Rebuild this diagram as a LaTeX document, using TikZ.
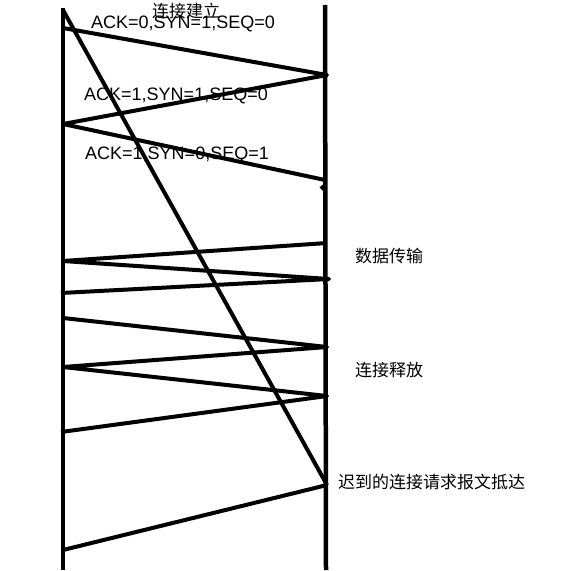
\documentclass[tikz,border=0pt]{standalone}
\usepackage{fontspec}
\setmainfont{Noto Sans CJK SC}
\newfontfamily\latinfont{Liberation Sans}
\tikzset{
  timeline/.style={line width=4.5pt},
  msg/.style={line width=4pt, line join=round},
  lbl/.style={inner sep=0pt, font=\fontsize{17}{19}\selectfont},
  flag/.style={inner sep=0pt, font=\latinfont\fontsize{18}{20}\selectfont}
}
\begin{document}
\begin{tikzpicture}[x=1pt,y=-1pt]
\useasboundingbox (0,0) rectangle (580,570);
% the two time lines
\coordinate (lt) at (63,8);
\coordinate (lb) at (63,570);
\coordinate (rt) at (325,5);
\coordinate (rb) at (326,570);
\draw[timeline] (lt) -- (lb);
\draw[timeline] (rt) -- (rb);

% points on the left and right lines
\coordinate (l0) at (63,10);
\coordinate (l1) at (63,28);
\coordinate (r1) at (327,75);
\coordinate (l2) at (63,124);
\coordinate (r2) at (325,180);
\coordinate (r3) at (327,243);
\coordinate (l3) at (63,261);
\coordinate (r4) at (329,279);
\coordinate (l4) at (61,293);
\coordinate (l5) at (63,318);
\coordinate (r5) at (327,347);
\coordinate (l6) at (63,367);
\coordinate (r6) at (327,396);
\coordinate (l7) at (61,432);
\coordinate (r7) at (327,485);
\coordinate (l8) at (63,550);

% connection set up
\draw[msg] (l1) -- (r1) -- (l2) -- (r2);
\draw[msg] (321,186) -- (325,190);
% delayed request
\draw[msg] (l0) -- (r7);
% data transfer
\draw[msg] (r3) -- (l3) -- (r4) -- (l4);
% connection release
\draw[msg] (l5) -- (r5) -- (l6) -- (r6) -- (l7);
% late request arrives
\draw[msg] (r7) -- (l8);

% labels
\node[lbl] (setup) at (186,11) {连接建立};
\node[flag] (syn) at (183,24) {ACK=0,SYN=1,SEQ=0};
\node[flag] (synack) at (176,96) {ACK=1,SYN=1,SEQ=0};
\node[flag] (ack) at (177,155) {ACK=1,SYN=0,SEQ=1};
\node[lbl, anchor=west] (data) at (355,256) {数据传输};
\node[lbl, anchor=west] (release) at (355,370) {连接释放};
\node[lbl, anchor=west] (late) at (338,482) {迟到的连接请求报文抵达};
\end{tikzpicture}
\end{document}
